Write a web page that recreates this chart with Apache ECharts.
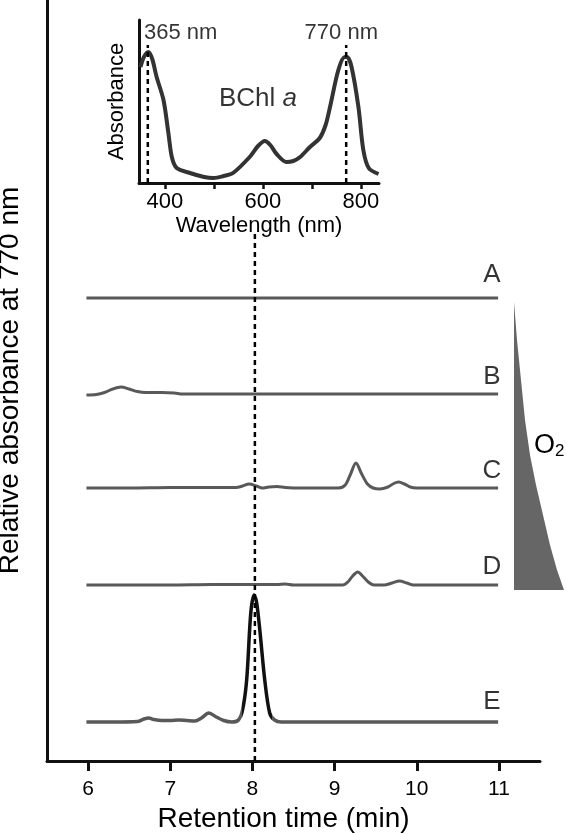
<!DOCTYPE html>
<html>
<head>
<meta charset="utf-8">
<style>html,body{margin:0;padding:0;background:#fff;}#c{width:566px;height:834px;}</style>
<script src="https://cdn.jsdelivr.net/npm/echarts@6/dist/echarts.min.js"></script>
</head>
<body>
<div id="c"></div>
<script>
// ---- main chromatograms: [retention time (min), relative absorbance] ----
const traceNames = ['A', 'B', 'C', 'D', 'E'];
const traceOffsets = [463, 367, 273, 176, 39];
const labelHeights = [486, 384, 290, 194, 59];
const labelTime = 10.915;
const traceA = [[5.98,0],[6.5,0],[7,0],[7.5,0],[8,0],[8.5,0],[9,0],[9.5,0],[10,0],[10.5,0],[10.99,0]];
const traceB = [[5.98,-1],[6.1,-0.5],[6.2,1.5],[6.3,5],[6.4,7],[6.5,5],[6.6,2.5],[6.7,1.5],[6.9,1.5],[7.05,1],[7.15,0],[7.5,0],[8,0],[9,0],[10,0],[10.99,0]];
const traceC = [[5.98,0],[6.5,0],[7.0,0.5],[7.5,0.5],[7.8,0.5],[7.88,2],[7.96,4],[8.05,2],[8.12,0],[8.2,1],[8.3,1.5],[8.4,0.5],[8.6,0],[9.05,0],[9.13,3],[9.19,13],[9.26,25],[9.33,14],[9.4,4],[9.47,0],[9.55,-1],[9.65,1],[9.72,4.5],[9.78,6],[9.85,4],[9.92,1],[10.0,0],[10.5,0],[10.99,0]];
const traceD = [[5.98,0],[6.5,0],[7.0,0],[7.5,0.5],[8.0,0.5],[8.3,0.5],[8.4,1],[8.5,0],[8.8,0],[9.1,0],[9.16,3],[9.22,9],[9.28,13],[9.34,9],[9.41,3],[9.48,0],[9.6,0],[9.7,2],[9.79,4],[9.88,2],[9.96,0],[10.5,0],[10.99,0]];
const traceE = [[5.98,0],[6.3,0],[6.6,0.5],[6.68,3],[6.74,4],[6.8,2.5],[6.9,1.5],[7.0,1.5],[7.1,2],[7.2,1.5],[7.3,1],[7.38,4],[7.47,9],[7.56,5],[7.65,1.5],[7.75,0],[7.83,2],[7.88,12],[7.93,42],[7.98,109],[8.02,127],[8.05,120],[8.09,92],[8.15,42],[8.21,9],[8.27,2],[8.35,0],[8.6,0],[9,0],[10,0],[10.99,0]];
const traces = [traceA, traceB, traceC, traceD, traceE];
const timeTicks = [6, 7, 8, 9, 10, 11];
const markerTime = 8.03;
const markerTop = 529;

// ---- inset absorption spectrum: [wavelength (nm), absorbance] ----
const spectrum = [[350,116],[357,126],[366,131],[374,124],[383,106],[397,83],[407,50],[414,26],[424,15],[451,10],[480,6],[499,5],[520,7],[539,10],[573,26],[590,37],[604,42],[615,38],[628,29],[648,21],[662,22],[676,26],[696,36],[716,45],[728,58],[737,76],[754,113],[767,126],[772,126],[781,116],[795,76],[805,33],[816,15],[836,9]];
const peakWavelengths = [365, 770];
const peakLabels = ['365 nm', '770 nm'];
const peakLabelPos = [[432, 150], [760, 150]];
const wlTicks = [400, 500, 600, 700, 800];
const wlLabels = [400, 600, 800];

const FONT = 'Liberation Sans, Arial, sans-serif';
const chart = echarts.init(document.getElementById('c'), null, {renderer: 'canvas'});

const series = [];
traces.forEach((t, i) => {
  const ls = i === 4 ? {width: 3.5} : {color: '#595959', width: 3};
  series.push({
    type: 'line', xAxisIndex: 0, yAxisIndex: 0, showSymbol: false, smooth: 0.3,
    data: t.map(p => [p[0], p[1] + traceOffsets[i]]),
    lineStyle: ls, z: 3, silent: true
  });
});
series.push({
  type: 'line', xAxisIndex: 0, yAxisIndex: 0, showSymbol: false,
  data: [[markerTime, 0], [markerTime, markerTop]],
  lineStyle: {color: '#000', width: 2.5, type: [5, 4]}, z: 4
});
series.push({
  type: 'scatter', xAxisIndex: 0, yAxisIndex: 0, symbolSize: 0,
  data: traceNames.map((n, i) => [labelTime, labelHeights[i], n]),
  label: {show: true, position: 'inside', formatter: p => p.data[2], color: '#000', fontSize: 26, fontFamily: FONT}
});
// inset
series.push({
  type: 'line', xAxisIndex: 1, yAxisIndex: 1, showSymbol: false, smooth: 0.3,
  data: spectrum, lineStyle: {color: '#333', width: 4}, z: 3
});
peakWavelengths.forEach(w => {
  series.push({
    type: 'line', xAxisIndex: 1, yAxisIndex: 1, showSymbol: false,
    data: [[w, 0], [w, 138]], lineStyle: {color: '#000', width: 2.5, type: [5, 4]}, z: 4
  });
});
series.push({
  type: 'scatter', xAxisIndex: 1, yAxisIndex: 1, symbolSize: 0,
  data: peakLabels.map((s, i) => [peakLabelPos[i][0], peakLabelPos[i][1], s]).concat([[590, 84, 'bchl']]),
  label: {
    show: true, position: 'inside', color: '#000', fontSize: 22, fontFamily: FONT,
    formatter: p => p.data[2] === 'bchl' ? '{n|BChl }{i|a}' : p.data[2],
    rich: {n: {fontSize: 26, fontFamily: FONT, color: '#000'}, i: {fontSize: 26, fontStyle: 'italic', fontFamily: FONT, color: '#000'}}
  }
});

chart.setOption({
  animation: false,
  grid: [
    {left: 47, right: 26, top: 0, bottom: 73, outerBoundsMode: 'none', containLabel: false},
    {left: 139, top: 20, width: 240, height: 163, outerBoundsMode: 'none', containLabel: false}
  ],
  visualMap: {
    show: false, type: 'piecewise', seriesIndex: 4, dimension: 0,
    pieces: [{gt: 7.87, lte: 8.24, color: '#111'}, {lte: 7.87, color: '#595959'}, {gt: 8.24, color: '#595959'}]
  },
  xAxis: [
    {
      type: 'value', gridIndex: 0, min: 5.5, max: 11.5,
      name: 'Retention time (min)', nameLocation: 'middle', nameGap: 42,
      nameTextStyle: {fontSize: 28, fontFamily: FONT, color: '#000', padding: [0, 20, 0, 0]},
      axisLine: {show: true, onZero: false, lineStyle: {color: '#111', width: 3}},
      axisTick: {show: true, length: 10, lineStyle: {width: 3, color: '#111'}, customValues: timeTicks},
      axisLabel: {fontSize: 21, fontFamily: FONT, color: '#000', margin: 18, customValues: timeTicks},
      splitLine: {show: false}
    },
    {
      type: 'value', gridIndex: 1, min: 347, max: 837,
      name: 'Wavelength (nm)', nameLocation: 'middle', nameGap: 32,
      nameTextStyle: {fontSize: 22, fontFamily: FONT, color: '#000'},
      axisLine: {show: true, onZero: false, lineStyle: {color: '#111', width: 3}},
      axisTick: {show: true, length: 6, lineStyle: {width: 2.5, color: '#111'}, customValues: wlTicks},
      axisLabel: {fontSize: 22, fontFamily: FONT, color: '#000', margin: 8, customValues: wlLabels},
      splitLine: {show: false}
    }
  ],
  yAxis: [
    {
      type: 'value', gridIndex: 0, min: 0, max: 761,
      name: 'Relative absorbance at 770 nm', nameLocation: 'middle', nameGap: 23, nameRotate: 90,
      nameTextStyle: {fontSize: 28, fontFamily: FONT, color: '#000'},
      axisLine: {show: true, onZero: false, lineStyle: {color: '#111', width: 3}},
      axisTick: {show: false}, axisLabel: {show: false}, splitLine: {show: false}
    },
    {
      type: 'value', gridIndex: 1, min: 0, max: 163,
      name: 'Absorbance', nameLocation: 'middle', nameGap: 11, nameRotate: 90,
      nameTextStyle: {fontSize: 22, fontFamily: FONT, color: '#000'},
      axisLine: {show: true, onZero: false, lineStyle: {color: '#111', width: 3}},
      axisTick: {show: false}, axisLabel: {show: false}, splitLine: {show: false}
    }
  ],
  graphic: [
    {type: 'polygon', shape: {points: [[514,302],[517,340],[521,380],[525,420],[530,455],[536,485],[543,515],[550,545],[557,570],[564,590],[514,590]]}, style: {fill: '#666'}},
    {type: 'text', left: 534, top: 432, style: {text: '{o|O}{s|2}', rich: {o: {fontSize: 27, fontFamily: FONT, fill: '#000'}, s: {fontSize: 17, fontFamily: FONT, fill: '#000', padding: [12, 0, 0, 0]}}}}
  ],
  series: series
});
</script>
</body>
</html>
